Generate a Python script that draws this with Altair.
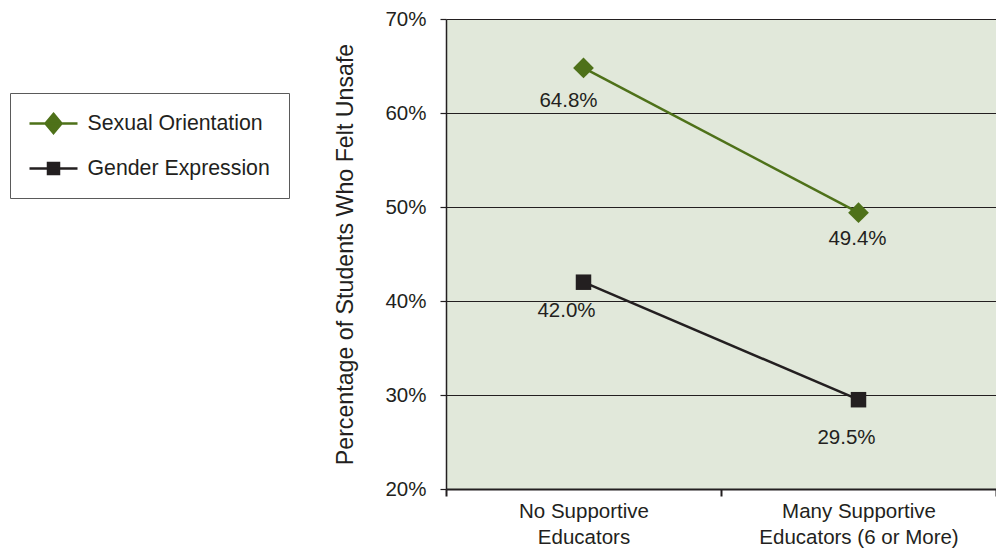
import altair as alt
import pandas as pd

# ---- data ----
categories = ["No Supportive\nEducators", "Many Supportive\nEducators (6 or More)"]
series = ["Sexual Orientation", "Gender Expression"]
sexual_orientation = [64.8, 49.4]
gender_expression = [42.0, 29.5]
y_ticks = [20, 30, 40, 50, 60, 70]

# ---- styling ----
FONT = "Liberation Sans"
TXT = "#231f20"
colors = ["#4e7119", "#231f20"]
marker_shapes = ["diamond", "square"]
marker_sizes = [430, 240]
legend_shapes = [
    "M-2.4,0H2.4M0,-0.96L0.8,0L0,0.96L-0.8,0Z",
    "M-2.4,0H2.4M-0.55,-0.55H0.55V0.55H-0.55Z",
]
# label offsets (dx, dy) per series / category index
label_offsets = {
    (0, 0): (-15, 33), (0, 1): (-1, 26),
    (1, 0): (-17, 29), (1, 1): (-12, 38),
}

rows = []
for si, (s, vals) in enumerate(zip(series, [sexual_orientation, gender_expression])):
    for ci, (c, v) in enumerate(zip(categories, vals)):
        rows.append({"Series": s, "Category": c, "Value": v, "S": si, "C": ci})
df = pd.DataFrame(rows)

x_enc = alt.X(
    "Category:N", sort=categories,
    scale=alt.Scale(type="band", paddingInner=0, paddingOuter=0),
    axis=alt.Axis(
        title=None, labelExpr="split(datum.label, '\\n')", tickBand="extent",
        grid=False, labelAngle=0, domainColor=TXT, domainWidth=2, tickColor=TXT,
        tickWidth=2, tickSize=7, labelPadding=5, labelFont=FONT, labelFontSize=20.5,
        labelColor=TXT, labelLineHeight=26.5, labelBaseline="top", labelLimit=400,
    ),
)
y_enc = alt.Y(
    "Value:Q",
    scale=alt.Scale(domain=[20, 70], nice=False, zero=False),
    axis=alt.Axis(
        values=y_ticks, labelExpr="datum.value + '%'",
        title="Percentage of Students Who Felt Unsafe",
        titleFont=FONT, titleFontSize=23.2, titleFontWeight="normal", titleColor=TXT,
        titlePadding=27, grid=True, gridColor=TXT, gridWidth=1.2,
        domainColor=TXT, domainWidth=1.5, tickColor=TXT, tickWidth=1.2, tickSize=6,
        labelPadding=14, labelFont=FONT, labelFontSize=20.5, labelColor=TXT,
    ),
)
color_scale = alt.Scale(domain=series, range=colors)

base = alt.Chart(df)

leg = dict(
    title=None, orient="none", legendX=-436, legendY=74, padding=19,
    strokeColor="#5a5a5a", fillColor="white", symbolSize=400, symbolOffset=13,
    labelOffset=22.5, rowPadding=18, labelFont=FONT, labelFontSize=21.3, labelColor=TXT,
    symbolStrokeWidth=2.5, symbolOpacity=1, labelLimit=400,
)
legend_layer = base.mark_point(filled=True, opacity=0).encode(
    x=x_enc, y=y_enc,
    color=alt.Color("Series:N", scale=color_scale, legend=alt.Legend(**leg)),
    stroke=alt.Stroke("Series:N", scale=alt.Scale(domain=series, range=colors), legend=alt.Legend(**leg)),
    shape=alt.Shape("Series:N", scale=alt.Scale(domain=series, range=legend_shapes), legend=alt.Legend(**leg)),
)

lines = base.mark_line(strokeWidth=2.5).encode(
    x=x_enc, y=y_enc, color=alt.Color("Series:N", scale=color_scale, legend=None)
)

point_layers = []
for si, s in enumerate(series):
    point_layers.append(
        base.transform_filter(alt.datum.S == si)
        .mark_point(filled=True, opacity=1, shape=marker_shapes[si], size=marker_sizes[si])
        .encode(x=x_enc, y=y_enc, color=alt.Color("Series:N", scale=color_scale, legend=None))
    )

text_layers = []
for (si, ci), (dx, dy) in label_offsets.items():
    text_layers.append(
        base.transform_filter((alt.datum.S == si) & (alt.datum.C == ci))
        .transform_calculate(Label="format(datum.Value, '.1f') + '%'")
        .mark_text(dx=dx, dy=dy, font=FONT, fontSize=20.5, color=TXT, baseline="middle")
        .encode(x=x_enc, y=y_enc, text="Label:N")
    )

chart = alt.layer(legend_layer, lines, *point_layers, *text_layers).properties(
    width=550, height=470,
    autosize=alt.AutoSizeParams(type="none"),
    padding={"left": 438, "top": 11, "right": 0, "bottom": 60},
).configure_view(fill="#e1e8da", stroke=None)

chart.save("out.html", embed_options={"renderer": "svg", "actions": False})
